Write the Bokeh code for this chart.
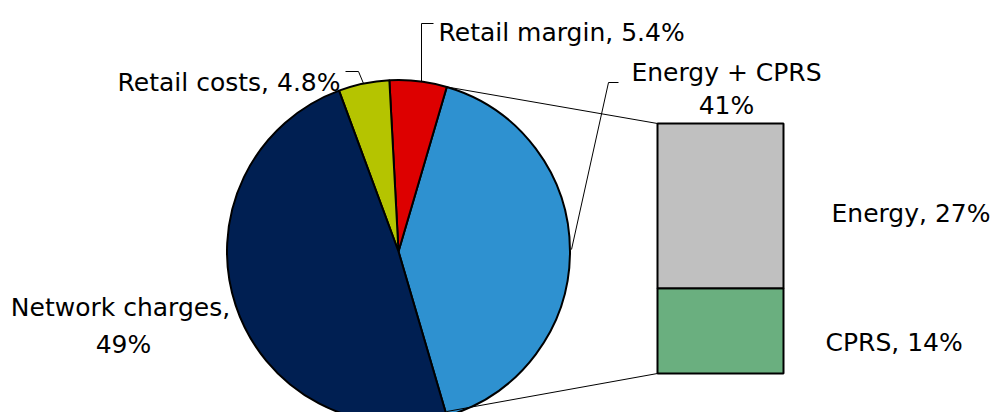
import math
from bokeh.plotting import figure
from bokeh.models import Range1d
from bokeh.core.properties import value
from bokeh.embed import file_html
from bokeh.resources import INLINE

# ---- data ----
pie_labels = ["Energy + CPRS", "Retail margin", "Retail costs", "Network charges"]
pie_values = [41.0, 5.4, 4.8, 49.0]
pie_colors = ["#2E91D0", "#DD0000", "#B5C400", "#001F52"]

bar_labels = ["CPRS", "Energy"]
bar_values = [14.0, 27.0]
bar_colors = ["#6AAF7F", "#C0C0C0"]

W, H = 999, 412
p = figure(width=W, height=H, output_backend="svg", toolbar_location=None,
           x_range=Range1d(0, W), y_range=Range1d(0, H), min_border=0,
           border_fill_color="white", background_fill_color="white")
p.axis.visible = False
p.grid.visible = False
p.outline_line_color = None

# ---- pie ----
cx, cy, r = 398.0, 161.0, 171.5
total = sum(pie_values)
angs = [v / total * 2 * math.pi for v in pie_values]
start0 = -angs[0] / 2
starts, ends = [], []
a = start0
for g in angs:
    starts.append(a)
    ends.append(a + g)
    a += g
p.wedge(x=cx, y=cy, radius=r, start_angle=starts, end_angle=ends,
        fill_color=pie_colors, line_color="black", line_width=2)

# ---- bar (secondary) ----
bar_left, bar_right = 657.0, 783.0
bar_bot_px, bar_top_px = 39.0, 289.0
bar_total = sum(bar_values)
k = bar_total / (bar_top_px - bar_bot_px)
p.extra_y_ranges = {"bar": Range1d(-bar_bot_px * k, (H - bar_bot_px) * k)}
bottoms, tops = [], []
acc = 0.0
for v in bar_values:
    bottoms.append(acc)
    tops.append(acc + v)
    acc += v
p.vbar(x=(bar_left + bar_right) / 2, width=bar_right - bar_left, bottom=bottoms, top=tops,
       fill_color=bar_colors, line_color="black", line_width=2, y_range_name="bar")

# ---- connector lines ----
pt_top = (cx + r * math.cos(ends[0]), cy + r * math.sin(ends[0]))
pt_bot = (cx + r * math.cos(starts[0]), cy + r * math.sin(starts[0]))
p.segment(x0=[pt_top[0], pt_bot[0]], y0=[pt_top[1], max(pt_bot[1], 1)],
          x1=[bar_left, bar_left], y1=[bar_top_px, bar_bot_px],
          line_color="black", line_width=1)

# ---- leader lines ----
p.line(x=[345, 358, 363], y=[341, 341, 329], line_color="black", line_width=1)
p.line(x=[433, 421, 421], y=[389, 389, 331], line_color="black", line_width=1)
p.line(x=[618, 608, 571], y=[330, 330, 163], line_color="black", line_width=1)

# ---- labels ----
font = value("DejaVu Sans")
fs = "25px"
p.text(x=[438], y=[380], text=["Retail margin, 5.4%"], text_font=font, text_font_size=fs,
       text_align="left", text_baseline="alphabetic", text_color="black")
p.text(x=[340], y=[330], text=["Retail costs, 4.8%"], text_font=font, text_font_size=fs,
       text_align="right", text_baseline="alphabetic", text_color="black")
p.text(x=[726, 726], y=[340, 307], text=["Energy + CPRS", "41%"], text_font=font,
       text_font_size=fs, text_align="center", text_baseline="alphabetic", text_color="black")
p.text(x=[120, 123], y=[105, 68], text=["Network charges,", "49%"], text_font=font,
       text_font_size=fs, text_align="center", text_baseline="alphabetic", text_color="black")
p.text(x=[831, 825], y=[199, 70], text=["Energy, 27%", "CPRS, 14%"], text_font=font,
       text_font_size=fs, text_align="left", text_baseline="alphabetic", text_color="black")

open("out.html", "w").write(file_html(p, INLINE))
